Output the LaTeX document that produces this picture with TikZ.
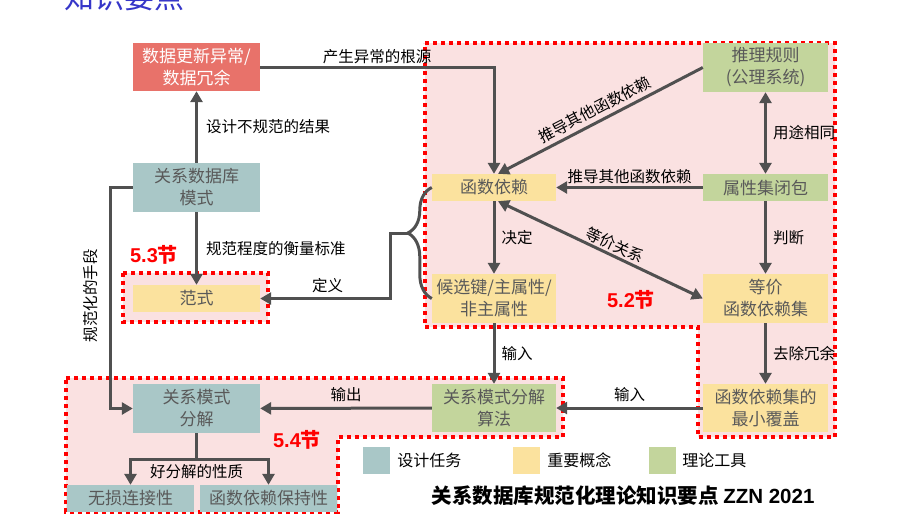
\documentclass[tikz,border=0pt]{standalone}
\usepackage{fontspec}
\setmainfont{Noto Sans CJK SC}
\newfontfamily\arialfont{Liberation Sans}
\usetikzlibrary{positioning,arrows.meta,decorations.pathreplacing}
\definecolor{taskteal}{HTML}{A9C7C7}
\definecolor{conceptyellow}{HTML}{FBE29E}
\definecolor{toolgreen}{HTML}{C3D59C}
\definecolor{anomalyred}{HTML}{E8726A}
\definecolor{zonepink}{HTML}{FAE1E1}
\definecolor{linegray}{HTML}{505050}
\definecolor{boxtext}{HTML}{595959}
\definecolor{titleblue}{HTML}{3636C8}

\begin{document}
\begin{tikzpicture}[x=1pt,y=-1pt,>={Triangle[length=11pt,width=12pt]},
  box/.style={minimum width=127pt,minimum height=#1,inner sep=1pt,align=center,text=boxtext,font=\fontsize{17}{22}\selectfont},
  box/.default=49pt,
  arr/.style={draw=linegray,line width=3pt,->},
  lbl/.style={font=\fontsize{15.5}{18}\selectfont,text=black,inner sep=2pt},
  zone/.style={draw=red,line width=4pt,dash pattern=on 4pt off 4pt,fill=zonepink},
  tag/.style={text=red,font=\fontsize{20}{22}\bfseries\selectfont}]
\useasboundingbox (0,0) rectangle (910,531);
\node[text=titleblue,font=\fontsize{30}{30}\selectfont] (heading) at (124,-3) {知识要点};

% section zones
\draw[zone] (123,273) rectangle (268,322);
\draw[zone] (425,43) -- (835,43) -- (835,437) -- (698,437) -- (698,327) -- (425,327) -- cycle;
\draw[zone] (66,378) -- (563,378) -- (563,437) -- (338,437) -- (338,512) -- (66,512) -- cycle;
\node[tag] (sec53) at (154,255) {{\arialfont\bfseries 5.3}节};
\node[tag] (sec52) at (631,300) {{\arialfont\bfseries 5.2}节};
\node[tag] (sec54) at (297,440) {{\arialfont\bfseries 5.4}节};

% left column
\node[box=48pt,fill=anomalyred,text=white] (anomaly) at (196.5,67) {数据更新异常/\\数据冗余};
\node[box,fill=taskteal] (schema) at (196.5,187.5) {关系数据库\\模式};
\node[box=27pt,fill=conceptyellow] (nf) at (196.5,298.5) {范式};
\node[box,fill=taskteal] (decomp) at (196.5,408.5) {关系模式\\分解};
\node[box=27pt,fill=taskteal] (lossless) at (130.5,498.5) {无损连接性};
\node[box=27pt,minimum width=137pt,fill=taskteal] (preserve) at (268.5,498.5) {函数依赖保持性};

% middle and right columns
\node[box=27pt,minimum width=124pt,fill=conceptyellow] (fd) at (494,187.5) {函数依赖};
\node[box,minimum width=124pt,fill=conceptyellow] (keys) at (494,298.5) {候选键/主属性/\\非主属性};
\node[box=48pt,minimum width=124pt,fill=toolgreen] (algo) at (494,408) {关系模式分解\\算法};
\node[box,minimum width=125pt,fill=toolgreen] (rules) at (765.5,67.5) {推理规则\\(公理系统)};
\node[box=27pt,minimum width=125pt,fill=toolgreen] (closure) at (765.5,187.5) {属性集闭包};
\node[box,minimum width=125pt,fill=conceptyellow] (equiv) at (765.5,298.5) {等价\\函数依赖集};
\node[box=48pt,minimum width=125pt,fill=conceptyellow] (mincover) at (765.5,408) {函数依赖集的\\最小覆盖};

% connectors
\draw[arr] (schema) -- (anomaly) node[midway,right=6pt,lbl]{设计不规范的结果};
\draw[arr] (schema) -- (nf) node[midway,right=6pt,lbl]{规范程度的衡量标准};
\draw[arr] (anomaly.east) -| (fd.north) node[pos=0.25,above,lbl]{产生异常的根源};
\draw[arr] (schema.west) -- ++(-22,0) |- (decomp.west)
  node[pos=0.245,rotate=90,anchor=south,lbl,inner ysep=11pt]{规范化的手段};
\draw[arr] (rules.west) -- ([xshift=4pt]fd.north) node[midway,sloped,above=2pt,lbl]{推导其他函数依赖};
\draw[arr] (closure) -- (fd) node[midway,above,lbl]{推导其他函数依赖};
\draw[arr,<->] (rules) -- (closure) node[midway,right=4pt,lbl]{用途相同};
\draw[arr] (closure) -- (equiv) node[midway,right=4pt,lbl]{判断};
\draw[arr] (fd) -- (keys) node[midway,right=4pt,lbl]{决定};
\draw[arr,<->] ([xshift=4pt]fd.south) -- (equiv.west) node[pos=0.55,sloped,above,lbl]{等价关系};
\draw[arr] (equiv) -- (mincover) node[midway,right=4pt,lbl]{去除冗余};
\draw[arr] (keys) -- (algo) node[midway,right=4pt,lbl]{输入};
\draw[arr] (mincover) -- (algo) node[midway,above=3pt,lbl]{输入};
\draw[arr] (algo) -- (decomp) node[midway,above=3pt,lbl]{输出};
\draw[arr] (decomp.south) -- ++(0,26) coordinate (split) -| (lossless.north);
\draw[arr] (split) -| (preserve.north);
\node[lbl] (goodprop) at (196.5,472) {好分解的性质};

% brace joining the two concepts
\draw[linegray,line width=3pt,decorate,decoration={brace,amplitude=24pt,aspect=0.59}] (keys.west) -- (fd.west);
\coordinate (bracetip) at (408,233);
\draw[arr] (bracetip) -- ++(-18,0) |- (nf.east) node[pos=0.74,above=2pt,lbl]{定义};

% legend
\node[fill=taskteal,minimum size=27pt,inner sep=0pt] (legtask) at (376.5,460.5) {};
\node[lbl,right=5pt of legtask,font=\fontsize{16}{18}\selectfont] (legtasktext) {设计任务};
\node[fill=conceptyellow,minimum size=27pt,inner sep=0pt] (legconcept) at (526.5,460.5) {};
\node[lbl,right=5pt of legconcept,font=\fontsize{16}{18}\selectfont] (legconcepttext) {重要概念};
\node[fill=toolgreen,minimum size=27pt,inner sep=0pt] (legtool) at (662.5,460.5) {};
\node[lbl,right=4pt of legtool,font=\fontsize{16}{18}\selectfont] (legtooltext) {理论工具};
\node[font=\fontsize{20.5}{22}\bfseries\selectfont] (caption) at (623,496) {关系数据库规范化理论知识要点 {\arialfont\bfseries ZZN 2021}};
\end{tikzpicture}
\end{document}
